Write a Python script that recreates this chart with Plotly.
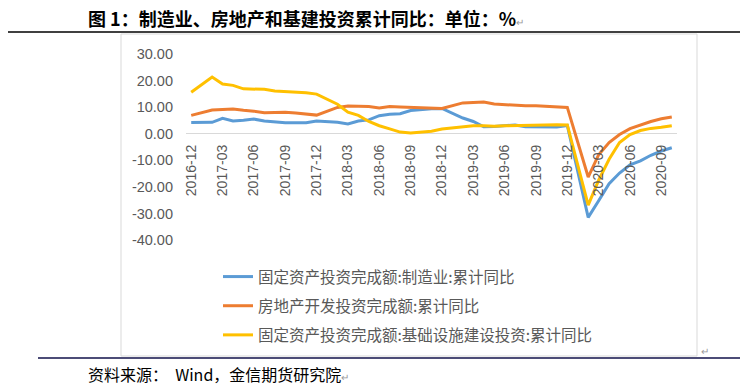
import plotly.graph_objects as go

# ---------------- data ----------------
months = [
    "2016-12",
    "2017-01", "2017-02", "2017-03", "2017-04", "2017-05", "2017-06",
    "2017-07", "2017-08", "2017-09", "2017-10", "2017-11", "2017-12",
    "2018-01", "2018-02", "2018-03", "2018-04", "2018-05", "2018-06",
    "2018-07", "2018-08", "2018-09", "2018-10", "2018-11", "2018-12",
    "2019-01", "2019-02", "2019-03", "2019-04", "2019-05", "2019-06",
    "2019-07", "2019-08", "2019-09", "2019-10", "2019-11", "2019-12",
    "2020-01", "2020-02", "2020-03", "2020-04", "2020-05", "2020-06",
    "2020-07", "2020-08", "2020-09", "2020-10",
]

manufacturing = [
    4.2,
    None, 4.3, 5.8, 4.8, 5.1, 5.5, 4.8, 4.5, 4.1, 4.1, 4.1, 4.8,
    None, 4.3, 3.7, 4.8, 5.2, 6.8, 7.3, 7.5, 8.7, 9.1, 9.4, 9.5,
    None, 5.9, 4.6, 2.6, 2.7, 3.0, 3.3, 2.6, 2.5, 2.6, 2.5, 3.1,
    None, -31.5, -25.2, -18.8, -14.8, -11.7, -10.2, -8.1, -6.5, -5.3,
]

real_estate = [
    6.9,
    None, 8.9, 9.1, 9.3, 8.8, 8.5, 7.9, 7.9, 8.1, 7.8, 7.5, 7.0,
    None, 9.9, 10.4, 10.3, 10.2, 9.7, 10.2, 10.1, 9.9, 9.7, 9.7, 9.5,
    None, 11.6, 11.8, 11.9, 11.2, 10.9, 10.6, 10.5, 10.5, 10.3, 10.2, 9.9,
    None, -16.3, -7.9, -3.3, -0.3, 1.9, 3.4, 4.6, 5.6, 6.3,
]

infrastructure = [
    15.6,
    None, 21.3, 18.7, 18.2, 16.9, 16.9, 16.7, 16.1, 15.9, 15.6, 15.4, 14.9,
    None, 11.1, 8.1, 6.9, 4.6, 3.0, 1.8, 0.6, 0.3, 0.5, 0.9, 1.8,
    None, 2.5, 3.0, 3.0, 2.8, 3.0, 3.1, 3.2, 3.4, 3.3, 3.4, 3.3,
    None, -26.9, -17.5, -9.6, -3.3, -0.3, 1.2, 2.0, 2.4, 3.0,
]

series_names = [
    "固定资产投资完成额:制造业:累计同比",
    "房地产开发投资完成额:累计同比",
    "固定资产投资完成额:基础设施建设投资:累计同比",
]
series_colors = ["#5B9BD5", "#ED7D31", "#FFC000"]

x_tick_labels = months[0::3]
y_tick_values = [30, 20, 10, 0, -10, -20, -30, -40]
y_tick_labels = ["30.00", "20.00", "10.00", "0.00", "-10.00", "-20.00", "-30.00", "-40.00"]

title_text = "图 1：制造业、房地产和基建投资累计同比：单位：%"
source_text = "资料来源：  Wind，金信期货研究院"

# ---------------- layout helpers ----------------
# The page body has an 8px margin, so the figure is drawn 8px smaller and
# all reference pixel positions are shifted by that offset.
OFF = 8
W, H = 748 - OFF, 389 - OFF
PL, PR, PT, PB = 186 - OFF, 677 - OFF, 54 - OFF, 240 - OFF  # plot area in figure pixels


def fx(px):  # reference pixel -> paper
    return (px - OFF - PL) / (PR - PL)


def fy(py):
    return (PB - (py - OFF)) / (PB - PT)


CJK = "Noto Sans CJK SC"
GRAY = "#595959"

fig = go.Figure()
for vals, name, col in zip([manufacturing, real_estate, infrastructure], series_names, series_colors):
    fig.add_trace(go.Scatter(
        x=months, y=vals, name=name, mode="lines",
        line=dict(color=col, width=3), connectgaps=True,
        legendgroup=name,
    ))

fig.update_layout(
    width=W, height=H,
    margin=dict(l=PL, r=W - PR, t=PT, b=H - PB, autoexpand=False),
    paper_bgcolor="white", plot_bgcolor="white",
    showlegend=True,
    legend=dict(
        orientation="v", x=fx(218), y=fy(260), xanchor="left", yanchor="top",
        font=dict(family=CJK, size=15.5, color=GRAY),
        bgcolor="rgba(0,0,0,0)", tracegroupgap=6,
    ),
    xaxis=dict(
        type="category", categoryorder="array", categoryarray=months,
        range=[-0.5, len(months) - 0.5],
        tickmode="array", tickvals=x_tick_labels, ticktext=x_tick_labels,
        tickangle=-90, showgrid=False, showline=False, zeroline=False,
        ticks="", anchor="free", position=fy(133),
        tickfont=dict(family="Liberation Sans", size=14, color=GRAY),
        ticklabelstandoff=8,
    ),
    yaxis=dict(
        range=[-40, 30], tickmode="array", tickvals=y_tick_values, ticktext=y_tick_labels,
        showgrid=False, zeroline=True, zerolinecolor="#d9d9d9", zerolinewidth=1,
        showline=False, ticks="",
        tickfont=dict(family="Liberation Sans", size=14.5, color=GRAY),
        ticklabelstandoff=12,
    ),
    shapes=[
        # chart frame
        dict(type="rect", xref="paper", yref="paper",
             x0=fx(121), x1=fx(697), y0=fy(356), y1=fy(34),
             line=dict(color="#d9d9d9", width=1), fillcolor="rgba(0,0,0,0)", layer="below"),
        # rule under title
        dict(type="line", xref="paper", yref="paper",
             x0=fx(6), x1=fx(745), y0=fy(32), y1=fy(32),
             line=dict(color="#000000", width=1.5)),
        # rule above source
        dict(type="line", xref="paper", yref="paper",
             x0=fx(38), x1=fx(745), y0=fy(358), y1=fy(358),
             line=dict(color="#10104a", width=1.5)),
    ],
    annotations=[
        dict(xref="paper", yref="paper", x=fx(86), y=fy(18), xanchor="left", yanchor="middle",
             showarrow=False,
             text="<b>" + title_text + "</b><span style='font-size:10px;color:#999999'>↵</span>",
             font=dict(family=CJK, size=18, color="#000000")),
        dict(xref="paper", yref="paper", x=fx(86), y=fy(374), xanchor="left", yanchor="middle",
             showarrow=False,
             text=source_text + "<span style='font-size:10px;color:#999999'>↵</span>",
             font=dict(family=CJK, size=16, color="#000000")),
        dict(xref="paper", yref="paper", x=fx(699), y=fy(350), xanchor="left", yanchor="middle",
             showarrow=False, text="↵", font=dict(family=CJK, size=10, color="#999999")),
    ],
)

fig.write_html("out.html")
